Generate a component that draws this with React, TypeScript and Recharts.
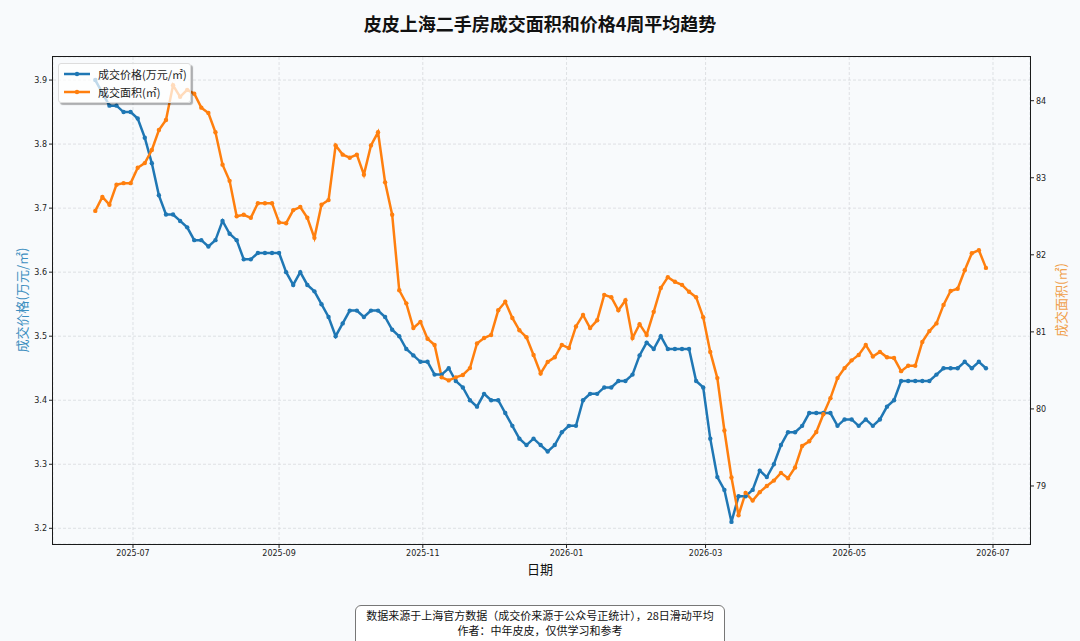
import { CartesianGrid, Line, LineChart, XAxis, YAxis } from 'recharts'

// 28日滑动平均，每3天取一个点
const startDate = '2025-06-15'
const stepDays = 3

// 成交价格(万元/㎡)
const price = [
  3.90, 3.88, 3.86, 3.86, 3.85, 3.85, 3.84, 3.81, 3.77, 3.72,
  3.69, 3.69, 3.68, 3.67, 3.65, 3.65, 3.64, 3.65, 3.68, 3.66,
  3.65, 3.62, 3.62, 3.63, 3.63, 3.63, 3.63, 3.60, 3.58, 3.60,
  3.58, 3.57, 3.55, 3.53, 3.50, 3.52, 3.54, 3.54, 3.53, 3.54,
  3.54, 3.53, 3.51, 3.50, 3.48, 3.47, 3.46, 3.46, 3.44, 3.44,
  3.45, 3.43, 3.42, 3.40, 3.39, 3.41, 3.40, 3.40, 3.38, 3.36,
  3.34, 3.33, 3.34, 3.33, 3.32, 3.33, 3.35, 3.36, 3.36, 3.40,
  3.41, 3.41, 3.42, 3.42, 3.43, 3.43, 3.44, 3.47, 3.49, 3.48,
  3.50, 3.48, 3.48, 3.48, 3.48, 3.43, 3.42, 3.34, 3.28, 3.26,
  3.21, 3.25, 3.25, 3.26, 3.29, 3.28, 3.30, 3.33, 3.35, 3.35,
  3.36, 3.38, 3.38, 3.38, 3.38, 3.36, 3.37, 3.37, 3.36, 3.37,
  3.36, 3.37, 3.39, 3.40, 3.43, 3.43, 3.43, 3.43, 3.43, 3.44,
  3.45, 3.45, 3.45, 3.46, 3.45, 3.46, 3.45,
]

// 成交面积(㎡)
const area = [
  82.57, 82.75, 82.65, 82.91, 82.93, 82.93, 83.13, 83.19, 83.36, 83.62,
  83.75, 84.20, 84.05, 84.14, 84.09, 83.91, 83.84, 83.59, 83.17, 82.96,
  82.50, 82.52, 82.48, 82.67, 82.67, 82.67, 82.42, 82.41, 82.58, 82.62,
  82.48, 82.22, 82.65, 82.71, 83.42, 83.30, 83.26, 83.30, 83.04, 83.42,
  83.59, 82.94, 82.52, 81.54, 81.37, 81.05, 81.13, 80.91, 80.83, 80.41,
  80.37, 80.41, 80.44, 80.53, 80.85, 80.92, 80.96, 81.28, 81.39, 81.18,
  81.02, 80.93, 80.70, 80.46, 80.61, 80.67, 80.83, 80.79, 81.07, 81.22,
  81.05, 81.15, 81.48, 81.45, 81.28, 81.41, 80.92, 81.10, 80.96, 81.26,
  81.57, 81.71, 81.65, 81.61, 81.52, 81.45, 81.19, 80.74, 80.40, 79.72,
  79.11, 78.62, 78.91, 78.81, 78.92, 79.00, 79.07, 79.17, 79.10, 79.24,
  79.52, 79.58, 79.70, 79.93, 80.14, 80.40, 80.53, 80.63, 80.70, 80.83,
  80.68, 80.74, 80.67, 80.66, 80.49, 80.56, 80.56, 80.87, 81.01, 81.11,
  81.35, 81.53, 81.56, 81.80, 82.02, 82.06, 81.83,
]

const monthTicks = ['2025-07-01', '2025-09-01', '2025-11-01', '2026-01-01', '2026-03-01', '2026-05-01', '2026-07-01']
const priceTicks = [3.2, 3.3, 3.4, 3.5, 3.6, 3.7, 3.8, 3.9]
const areaTicks = [79, 80, 81, 82, 83, 84]

const DAY = 86400000
const t0 = Date.parse(startDate)
const data = price.map((p, i) => ({ t: t0 + i * stepDays * DAY, price: p, area: area[i] }))
const xTicks = monthTicks.map((d) => Date.parse(d))
const julTs = Date.parse('2025-07-01')
const xDomain = [julTs - 33.95 * DAY, julTs + 380.7 * DAY]

const BLUE = '#1f77b4'
const ORANGE = '#ff7f0e'
const BG = '#f8fafc'
const CJK = '"Noto Sans CJK SC", "Noto Sans", sans-serif'
const TICK = { fontSize: 8, fill: '#222', fontFamily: 'DejaVu Sans, sans-serif' }

const fmtMonth = (v: number) => {
  const d = new Date(v)
  return `${d.getUTCFullYear()}-${String(d.getUTCMonth() + 1).padStart(2, '0')}`
}

function LegendRow({ color, text }: { color: string; text: string }) {
  return (
    <div style={{ display: 'flex', alignItems: 'center', height: 18 }}>
      <svg width={30} height={10} style={{ marginRight: 6 }}>
        <line x1={2} y1={5} x2={28} y2={5} stroke={color} strokeWidth={2.5} />
        <circle cx={15} cy={5} r={2.2} fill={color} />
      </svg>
      <span>{text}</span>
    </div>
  )
}

export default function App() {
  return (
    <div style={{ position: 'absolute', left: 0, top: 0, width: 1080, height: 641, background: BG, overflow: 'hidden', fontFamily: CJK }}>
      <div style={{ position: 'absolute', left: 0, width: 1080, top: 10, textAlign: 'center', fontSize: 18, fontWeight: 'bold', color: '#111' }}>
        皮皮上海二手房成交面积和价格4周平均趋势
      </div>

      <LineChart width={1080} height={641} data={data} margin={{ top: 57, right: 0, bottom: 67, left: 8 }}>
        <CartesianGrid yAxisId='left' stroke='#d2d6da' strokeDasharray='3 2' strokeWidth={0.7} />
        <XAxis
          dataKey='t'
          type='number'
          domain={xDomain}
          ticks={xTicks}
          tickFormatter={fmtMonth}
          allowDataOverflow
          height={30}
          axisLine={false}
          tickSize={4}
          tick={TICK}
          tickLine={{ stroke: '#222' }}
        />
        <YAxis
          yAxisId='left'
          domain={[3.1755, 3.936]}
          ticks={priceTicks}
          tickFormatter={(v) => v.toFixed(1)}
          allowDataOverflow
          width={45}
          axisLine={false}
          tickSize={4}
          tick={TICK}
          tickLine={{ stroke: '#222' }}
        />
        <YAxis
          yAxisId='right'
          orientation='right'
          domain={[78.247, 84.567]}
          ticks={areaTicks}
          allowDataOverflow
          width={50}
          axisLine={false}
          tickSize={4}
          tick={TICK}
          tickLine={{ stroke: '#222' }}
        />
        <Line
          yAxisId='left'
          dataKey='price'
          type='linear'
          stroke={BLUE}
          strokeWidth={2.5}
          dot={{ r: 2.2, fill: BLUE, stroke: BLUE, strokeWidth: 0 }}
          isAnimationActive={false}
        />
        <Line
          yAxisId='right'
          dataKey='area'
          type='linear'
          stroke={ORANGE}
          strokeWidth={2.5}
          dot={{ r: 2.2, fill: ORANGE, stroke: ORANGE, strokeWidth: 0 }}
          isAnimationActive={false}
        />
      </LineChart>

      {/* 边框 */}
      <div style={{ position: 'absolute', left: 52, top: 56, width: 979, height: 489, border: '1.5px solid #1a1a1a', boxSizing: 'border-box', pointerEvents: 'none' }} />

      {/* 图例 */}
      <div style={{ position: 'absolute', left: 58, top: 63, width: 128, padding: '1px 0 1px 3px', background: 'rgba(255,255,255,0.72)', borderRadius: 3, boxShadow: '2px 2px 1px rgba(0,0,0,0.3)', border: '1px solid #ddd', fontSize: 11, color: '#222' }}>
        <LegendRow color={BLUE} text='成交价格(万元/㎡)' />
        <LegendRow color={ORANGE} text='成交面积(㎡)' />
      </div>

      {/* 坐标轴标题 */}
      <div style={{ position: 'absolute', left: 21, top: 300, transform: 'translate(-50%, -50%) rotate(-90deg)', whiteSpace: 'nowrap', fontSize: 13, color: '#3d8fc0' }}>
        成交价格(万元/㎡)
      </div>
      <div style={{ position: 'absolute', left: 1060, top: 300, transform: 'translate(-50%, -50%) rotate(-90deg)', whiteSpace: 'nowrap', fontSize: 13, color: '#f0a04b' }}>
        成交面积(㎡)
      </div>
      <div style={{ position: 'absolute', left: 0, width: 1080, top: 559, textAlign: 'center', fontSize: 13, color: '#111' }}>
        日期
      </div>

      {/* 脚注 */}
      <div style={{ position: 'absolute', left: 355, top: 605, width: 370, height: 50, border: '1px solid #777', borderRadius: 6, background: '#fff', boxSizing: 'border-box', textAlign: 'center', fontSize: 11, lineHeight: '15px', paddingTop: 2, color: '#111' }}>
        <div>数据来源于上海官方数据（成交价来源于公众号正统计），28日滑动平均</div>
        <div>作者：中年皮皮，仅供学习和参考</div>
      </div>
    </div>
  )
}
